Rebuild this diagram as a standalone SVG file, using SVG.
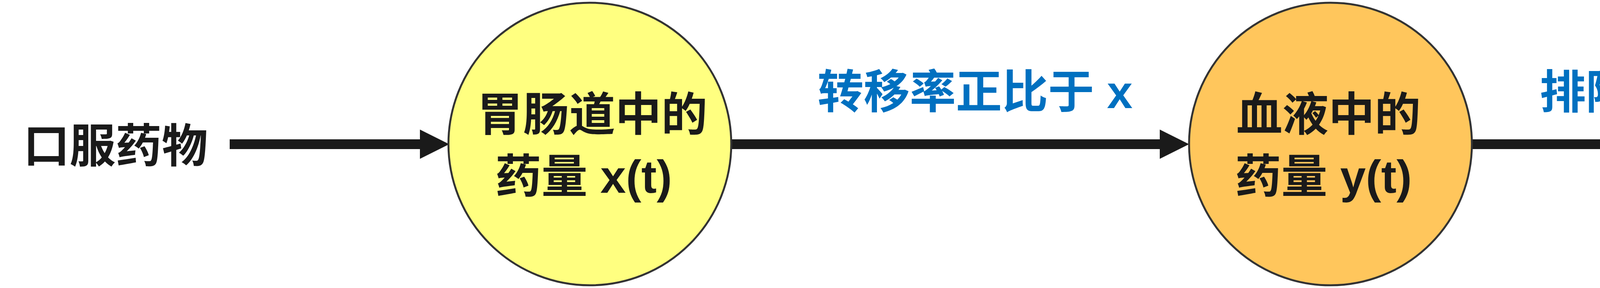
<svg xmlns="http://www.w3.org/2000/svg" width="5600" height="738" viewBox="0 0 5600 738">
<defs>
<style>
.t{font-family:"Liberation Sans","Noto Sans CJK SC",sans-serif;font-weight:bold;font-size:118px;fill:#1a1a1a}
.b{fill:#0070C0}
.c{stroke:#333333;stroke-width:5}
.ln{stroke:#1a1a1a;stroke-width:25;fill:none}
</style>
<marker id="ah" markerUnits="userSpaceOnUse" markerWidth="75" markerHeight="75" viewBox="0 0 75 75" refX="0" refY="37.5" orient="auto">
<path d="M0,0 L75,37.5 L0,75 z" fill="#1a1a1a"/>
</marker>
</defs>
<rect width="5600" height="738" fill="#ffffff"/>
<g id="connectors">
<line class="ln" x1="588" y1="369.5" x2="1075" y2="369.5" marker-end="url(#ah)"/>
<line class="ln" x1="1872" y1="369.5" x2="2969" y2="369.5" marker-end="url(#ah)"/>
<line class="ln" x1="3768" y1="369.5" x2="4975" y2="369.5" marker-end="url(#ah)"/>
<text class="t b" x="2093" y="277">转移率正比于 x</text>
<text class="t b" x="3942" y="278">排除率正比于y</text>
</g>
<g id="source">
<text class="t" x="60" y="416">口服药物</text>
</g>
<g id="gut">
<circle class="c" cx="1510" cy="369" r="362" fill="#FFFF80"/>
<text class="t" x="1221" y="335">胃肠道中的</text>
<text class="t" x="1268" y="494">药量 x(t)</text>
</g>
<g id="blood">
<circle class="c" cx="3406" cy="369" r="362" fill="#FFC65C"/>
<text class="t" x="3165" y="335">血液中的</text>
<text class="t" x="3162" y="494">药量 y(t)</text>
</g>
<g id="outside">
<text class="t" x="5202" y="416">体外</text>
</g>
</svg>
